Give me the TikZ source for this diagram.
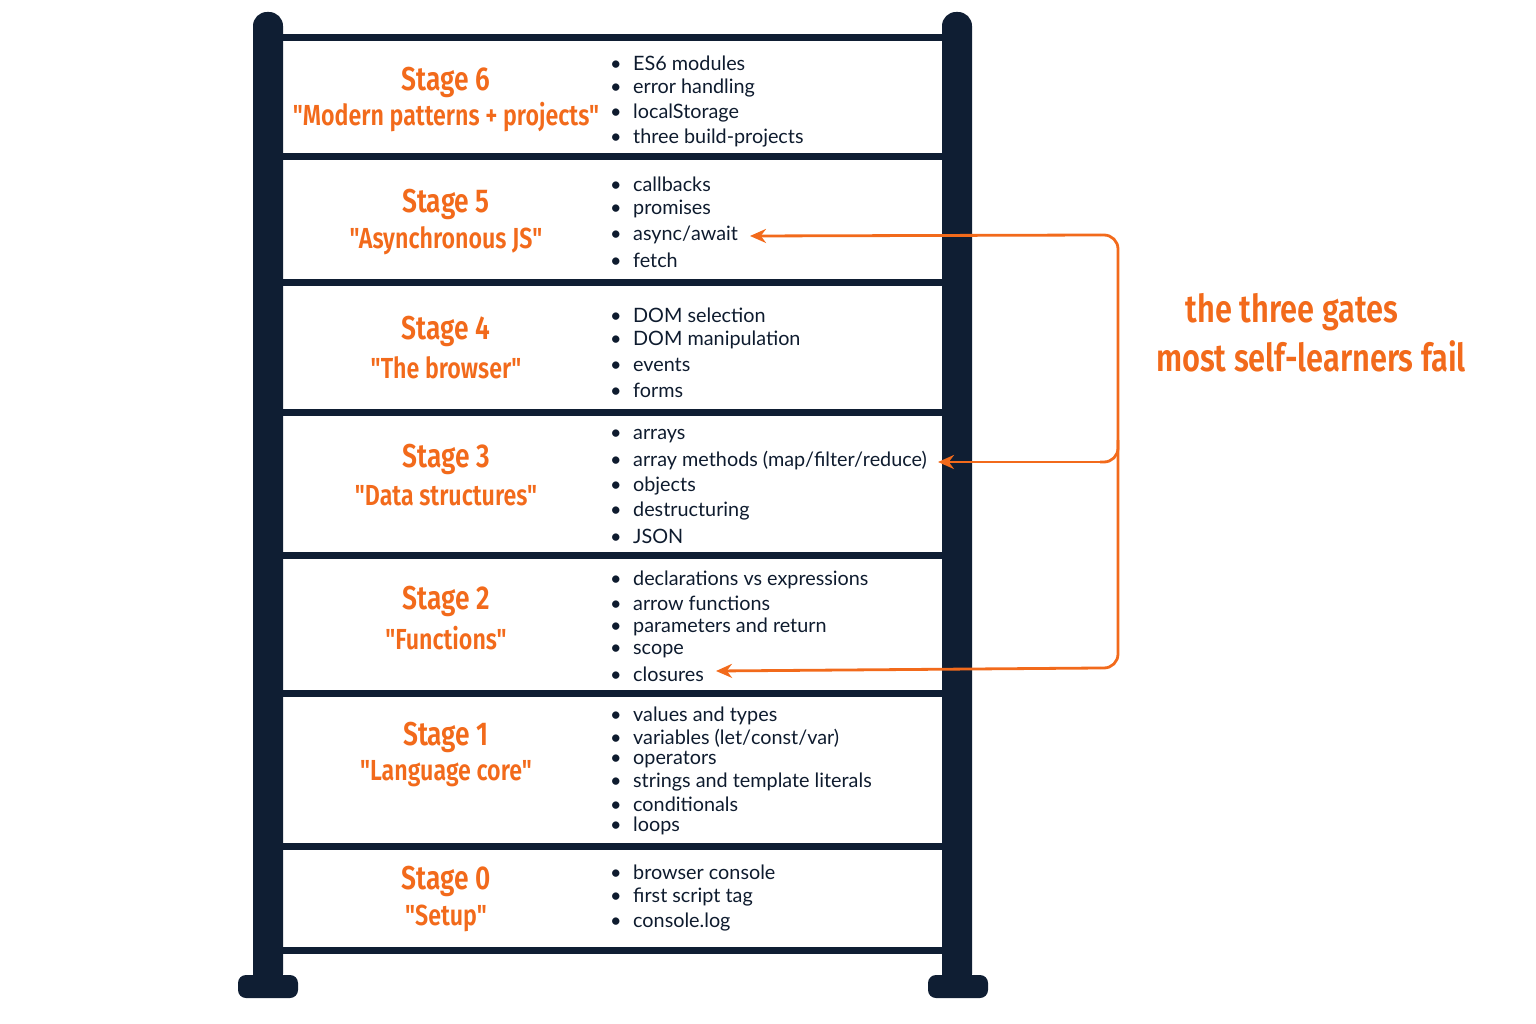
\documentclass[tikz,border=0pt]{standalone}
\usepackage{fontspec}
\setmainfont{Lato}
\newfontfamily\titlefont[FakeStretch=0.8]{Fira Sans SemiBold}
\newfontfamily\gatefont[FakeStretch=0.8]{Fira Sans SemiBold}
\usetikzlibrary{arrows.meta}
\definecolor{navy}{HTML}{0F1E33}
\definecolor{org}{HTML}{F26A1B}
\begin{document}
\begin{tikzpicture}[x=1pt,y=-1pt,
  rail/.style={fill=navy,rounded corners=14},
  foot/.style={fill=navy,rounded corners=8},
  rung/.style={fill=navy},
  ttl/.style={text=org,font=\titlefont\fontsize{33}{35}\selectfont,inner sep=0},
  sub/.style={text=org,font=\titlefont\fontsize{29}{31}\selectfont,inner sep=0},
  item/.style={anchor=west,text=navy!90!black,font=\fontsize{19.8}{21}\selectfont,inner sep=0},
  ob/.style={draw=org,line width=2.8pt},
  arr/.style={ob,-{Stealth[length=16pt,width=14pt]}},
  gate/.style={text=org,font=\gatefont\fontsize{38.5}{41}\selectfont,inner sep=0}]
\useasboundingbox (0,0) rectangle (1536,1024);
% rails
\path[rail] (253,12) rectangle (283,988);
\path[rail] (942,12) rectangle (972,988);
\path[foot] (238,975) rectangle (298,998);
\path[foot] (928,975) rectangle (988,998);
% rungs
\foreach \y [count=\i] in {38,157,283,412,555,693,846,950}
  \path[rung] (280,\y-3.5) rectangle (945,\y+3.5);
% titles
\foreach \n/\y/\s/\t in {6/82/117/{"Modern patterns + projects"},5/204/241/{"Asynchronous JS"},4/331/368/{"The browser"},3/459/496/{"Data structures"},2/601/638/{"Functions"},1/737/774/{"Language core"},0/881/918/{"Setup"}}{
  \node[ttl] (st\n) at (446,\y) {Stage \n};
  \node[sub] (sb\n) at (446,\s) {\t};
}
% items
\foreach \y/\t [count=\i] in {
63/ES6 modules,88/error handling,113/localStorage,138/three build-projects,
184/callbacks,209/promises,235/async\slash await,260/fetch,
315/DOM selection,340/DOM manipulation,365/events,390/forms,
436/arrays,461/array methods (map\slash filter\slash reduce),486/objects,511/destructuring,536/JSON,
580/declarations vs expressions,603/arrow functions,627/parameters and return,651/scope,674/closures,
716/values and types,738/variables (let\slash const\slash var),760/operators,782/strings and template literals,804/conditionals,826/loops,
872/browser console,897/first script tag,922/console.log}
  \node[item] (it\i) at (610,\y) {\textbullet\hspace{11.5pt}\t};
% gates
\coordinate (c5) at (1100,235);
\coordinate (c3) at (1100,462);
\coordinate (c2) at (1100,668);
\coordinate (t5) at (750,236);
\coordinate (t3) at (938,462);
\coordinate (t2) at (716,671);
\draw[ob,rounded corners=14] (c5) -- (1118,235) -- (1118,668) -- (c2);
\draw[ob,rounded corners=14] (1118,440) -- (1118,462) -- (c3);
\draw[arr] (c5) -- (t5);
\draw[arr] (c3) -- (t3);
\draw[arr] (c2) -- (t2);
\node[gate] (g1) at (1292,312) {the three gates};
\node[gate] (g2) at (1311,356) {most self-learners fail};
\end{tikzpicture}
\end{document}
